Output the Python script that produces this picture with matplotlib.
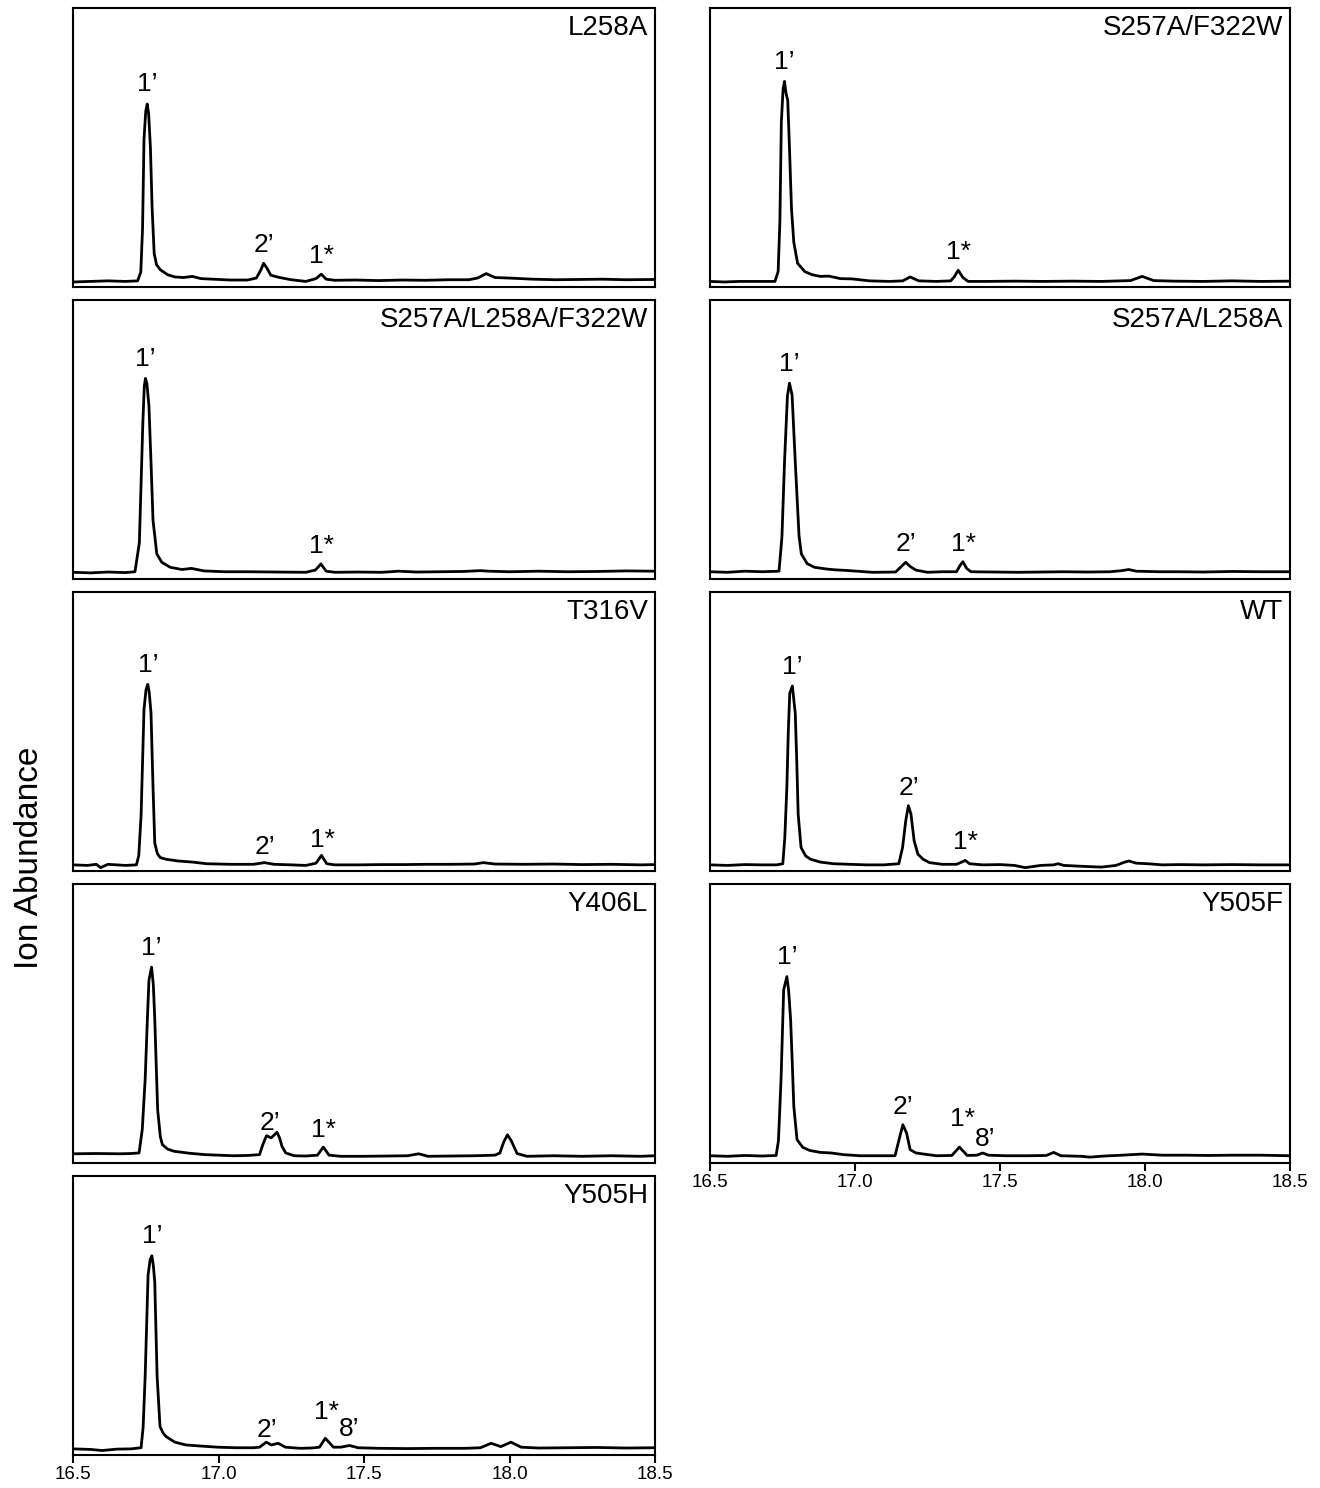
import matplotlib
matplotlib.use("Agg")
import matplotlib.pyplot as plt

plt.rcParams['font.family'] = ['Liberation Sans', 'DejaVu Sans']

# retention time (min), abundance (% of panel height)
l258a = [(16.50, 1.8), (16.56, 2.0), (16.62, 2.2), (16.68, 2.0), (16.722, 2.2), (16.733, 5.4), (16.739, 21),
         (16.744, 53), (16.750, 63), (16.755, 65.6), (16.760, 62), (16.766, 50), (16.772, 28), (16.779, 12),
         (16.787, 8), (16.800, 6.2), (16.825, 4.4), (16.850, 3.6), (16.88, 3.4), (16.91, 3.8), (16.94, 3.0),
         (16.98, 2.8), (17.04, 2.5), (17.10, 2.5), (17.13, 3.2), (17.145, 6.0), (17.155, 8.5), (17.165, 7.0),
         (17.18, 4.2), (17.21, 3.4), (17.25, 2.6), (17.30, 2.0), (17.335, 3.0), (17.353, 4.6), (17.37, 2.8),
         (17.40, 2.4), (17.47, 2.5), (17.55, 2.3), (17.63, 2.5), (17.71, 2.4), (17.79, 2.6), (17.86, 2.6),
         (17.89, 3.2), (17.92, 4.8), (17.95, 3.4), (18.00, 3.2), (18.08, 2.8), (18.16, 2.6), (18.24, 2.7),
         (18.32, 2.8), (18.40, 2.6), (18.50, 2.7)]

s257a_f322w = [(16.50, 2.0), (16.55, 1.8), (16.60, 2.0), (16.66, 2.0), (16.724, 2.0), (16.735, 5.6), (16.741, 23.5),
               (16.746, 59), (16.752, 71), (16.757, 73.7), (16.762, 69.5), (16.768, 67), (16.774, 50), (16.781, 28),
               (16.789, 16), (16.802, 8.5), (16.827, 5.5), (16.852, 4.4), (16.88, 3.8), (16.91, 3.9), (16.95, 3.0),
               (16.99, 2.9), (17.05, 2.2), (17.12, 2.0), (17.165, 2.2), (17.19, 3.6), (17.22, 2.2), (17.28, 2.0),
               (17.33, 2.2), (17.342, 3.6), (17.356, 6.0), (17.372, 3.4), (17.39, 2.0), (17.45, 2.0), (17.55, 2.1),
               (17.65, 2.0), (17.75, 2.1), (17.85, 2.0), (17.95, 2.3), (17.99, 3.8), (18.03, 2.3), (18.10, 2.1),
               (18.20, 2.0), (18.30, 2.2), (18.40, 2.0), (18.50, 2.1)]

s257a_l258a_f322w = [(16.50, 2.4), (16.56, 2.2), (16.62, 2.5), (16.68, 2.3), (16.713, 2.6), (16.728, 13), (16.735, 38),
                     (16.740, 56), (16.745, 69), (16.749, 71.9), (16.754, 70), (16.761, 62), (16.768, 42), (16.775, 21),
                     (16.788, 9), (16.805, 6.0), (16.834, 4.2), (16.874, 3.4), (16.907, 3.8), (16.95, 2.9), (17.02, 2.6),
                     (17.10, 2.6), (17.20, 2.5), (17.30, 2.4), (17.333, 3.2), (17.352, 5.4), (17.37, 2.8), (17.40, 2.4),
                     (17.48, 2.5), (17.56, 2.4), (17.62, 2.8), (17.68, 2.5), (17.76, 2.6), (17.84, 2.7), (17.90, 3.0),
                     (17.93, 2.8), (18.00, 2.6), (18.10, 2.8), (18.20, 2.6), (18.30, 2.7), (18.40, 2.9), (18.50, 2.8)]

s257a_l258a = [(16.50, 2.6), (16.56, 2.4), (16.62, 2.8), (16.68, 2.6), (16.738, 2.8), (16.748, 15), (16.757, 42),
               (16.767, 65.6), (16.774, 70.2), (16.783, 66), (16.794, 42), (16.807, 15.5), (16.815, 9), (16.835, 5.5),
               (16.86, 4.2), (16.90, 3.6), (16.93, 3.3), (16.98, 3.0), (17.06, 2.4), (17.14, 2.5), (17.160, 4.5),
               (17.175, 6.0), (17.19, 4.5), (17.21, 3.2), (17.25, 2.4), (17.30, 2.6), (17.35, 2.6), (17.362, 4.8),
               (17.372, 6.2), (17.385, 3.8), (17.40, 2.6), (17.48, 2.5), (17.56, 2.4), (17.64, 2.5), (17.72, 2.6),
               (17.80, 2.5), (17.88, 2.6), (17.92, 3.0), (17.944, 3.4), (17.97, 2.8), (18.05, 2.6), (18.12, 2.6),
               (18.20, 2.5), (18.30, 2.7), (18.40, 2.6), (18.50, 2.6)]

t316v = [(16.50, 2.2), (16.55, 2.0), (16.58, 2.4), (16.595, 1.2), (16.62, 2.4), (16.68, 2.0), (16.718, 2.2),
         (16.726, 5.5), (16.734, 20), (16.744, 58), (16.751, 65), (16.757, 66.9), (16.762, 64), (16.768, 56.7),
         (16.775, 30), (16.781, 10), (16.79, 6.2), (16.80, 4.8), (16.82, 4.2), (16.86, 3.6), (16.91, 3.2),
         (16.96, 2.6), (17.04, 2.4), (17.12, 2.4), (17.158, 3.0), (17.19, 2.4), (17.25, 2.2), (17.30, 2.0),
         (17.335, 2.8), (17.354, 5.6), (17.372, 2.6), (17.40, 2.2), (17.48, 2.2), (17.56, 2.3), (17.64, 2.3),
         (17.72, 2.4), (17.80, 2.4), (17.88, 2.5), (17.91, 3.0), (17.95, 2.5), (18.05, 2.4), (18.15, 2.5),
         (18.25, 2.3), (18.35, 2.4), (18.45, 2.2), (18.50, 2.3)]

wt = [(16.50, 2.2), (16.56, 2.0), (16.62, 2.3), (16.68, 2.2), (16.73, 2.2), (16.751, 2.6), (16.758, 12),
      (16.765, 30), (16.770, 50), (16.775, 63.7), (16.784, 66.3), (16.794, 56.5), (16.799, 40), (16.804, 20.4),
      (16.814, 8.4), (16.83, 5.4), (16.847, 4.2), (16.88, 3.2), (16.926, 2.6), (16.98, 2.4), (17.04, 2.2),
      (17.10, 2.2), (17.151, 2.6), (17.164, 8.4), (17.175, 18), (17.184, 23.4), (17.193, 20.4), (17.204, 10.8),
      (17.217, 6.0), (17.235, 4.2), (17.257, 3.0), (17.30, 2.4), (17.35, 2.4), (17.368, 3.2), (17.38, 3.8),
      (17.395, 2.6), (17.44, 2.2), (17.50, 2.3), (17.55, 2.0), (17.587, 1.2), (17.64, 2.0), (17.685, 2.2),
      (17.70, 2.6), (17.72, 2.0), (17.80, 1.6), (17.85, 1.4), (17.90, 2.0), (17.925, 3.0), (17.944, 3.6),
      (17.97, 2.8), (18.01, 2.6), (18.06, 2.2), (18.12, 2.3), (18.20, 2.2), (18.30, 2.3), (18.40, 2.2), (18.50, 2.2)]

y406l = [(16.50, 3.3), (16.58, 3.4), (16.66, 3.3), (16.70, 3.4), (16.727, 3.6), (16.738, 12), (16.748, 30),
         (16.755, 50), (16.761, 65.6), (16.770, 70.2), (16.776, 64), (16.781, 51.5), (16.786, 35), (16.791, 19),
         (16.800, 9.5), (16.807, 6.6), (16.825, 5.0), (16.847, 4.2), (16.90, 3.5), (16.953, 3.0), (17.00, 2.8),
         (17.05, 2.6), (17.10, 2.7), (17.141, 3.0), (17.152, 6.5), (17.165, 9.8), (17.181, 9.0), (17.201, 11),
         (17.210, 9.0), (17.218, 6.0), (17.231, 3.6), (17.26, 2.6), (17.30, 2.5), (17.34, 2.8), (17.36, 5.7),
         (17.38, 2.8), (17.42, 2.4), (17.50, 2.4), (17.58, 2.5), (17.65, 2.6), (17.688, 3.3), (17.72, 2.4),
         (17.80, 2.5), (17.88, 2.6), (17.95, 2.8), (17.967, 3.6), (17.98, 7.5), (17.993, 10.1), (18.006, 8),
         (18.026, 3.4), (18.06, 2.4), (18.15, 2.6), (18.25, 2.4), (18.35, 2.6), (18.45, 2.4), (18.50, 2.6)]

y505f = [(16.50, 2.6), (16.56, 2.4), (16.62, 2.7), (16.68, 2.5), (16.728, 2.7), (16.736, 8), (16.745, 30),
         (16.754, 62), (16.765, 66.8), (16.771, 62), (16.778, 51.3), (16.784, 35), (16.789, 20.3), (16.800, 8.4),
         (16.82, 5.6), (16.844, 4.5), (16.88, 3.8), (16.917, 3.6), (16.96, 3.0), (17.017, 2.6), (17.08, 2.6),
         (17.138, 2.6), (17.152, 8.4), (17.165, 13.7), (17.178, 10.7), (17.19, 4.8), (17.21, 3.6), (17.23, 3.3),
         (17.28, 2.6), (17.334, 2.7), (17.36, 5.7), (17.387, 2.7), (17.42, 2.8), (17.44, 3.6), (17.46, 2.8),
         (17.52, 2.6), (17.60, 2.6), (17.66, 2.7), (17.685, 3.8), (17.71, 2.6), (17.78, 2.4), (17.81, 2.1),
         (17.86, 2.5), (17.92, 2.8), (17.99, 3.2), (18.06, 2.8), (18.14, 2.8), (18.22, 2.7), (18.30, 2.8),
         (18.40, 2.8), (18.50, 2.6)]

y505h = [(16.50, 2.2), (16.56, 2.0), (16.60, 1.6), (16.65, 2.1), (16.70, 2.2), (16.734, 2.6), (16.741, 10),
         (16.748, 28.3), (16.758, 64.5), (16.765, 70), (16.771, 71.4), (16.776, 68), (16.781, 62), (16.785, 45),
         (16.789, 28.3), (16.799, 10.2), (16.81, 7.8), (16.82, 6.6), (16.85, 4.6), (16.888, 3.6), (16.94, 3.2),
         (16.997, 2.8), (17.06, 2.6), (17.12, 2.6), (17.141, 2.8), (17.164, 4.6), (17.182, 3.6), (17.205, 4.2),
         (17.23, 2.8), (17.28, 2.4), (17.32, 2.5), (17.347, 2.8), (17.367, 6.0), (17.395, 2.8), (17.42, 2.8),
         (17.45, 3.4), (17.48, 2.6), (17.55, 2.4), (17.65, 2.3), (17.75, 2.4), (17.85, 2.4), (17.90, 2.6),
         (17.937, 4.2), (17.97, 3.0), (18.005, 4.6), (18.04, 2.8), (18.10, 2.5), (18.20, 2.6), (18.30, 2.7),
         (18.40, 2.5), (18.50, 2.6)]

# peak labels: text, time, apex height, lift above apex (points)
lab_l258a = [("1\u2019", 16.755, 65.6, 9), ("2\u2019", 17.155, 8.5, 8), ("1*", 17.355, 4.6, 8)]
lab_s257a_f322w = [("1\u2019", 16.757, 73.7, 9), ("1*", 17.358, 6.0, 8)]
lab_s257a_l258a_f322w = [("1\u2019", 16.749, 71.9, 9), ("1*", 17.354, 5.4, 8)]
lab_s257a_l258a = [("1\u2019", 16.774, 70.2, 9), ("2\u2019", 17.177, 6.0, 8), ("1*", 17.375, 6.2, 8)]
lab_t316v = [("1\u2019", 16.757, 66.9, 9), ("2\u2019", 17.158, 3.0, 6), ("1*", 17.357, 5.6, 6)]
lab_wt = [("1\u2019", 16.784, 66.3, 9), ("2\u2019", 17.186, 23.4, 8), ("1*", 17.382, 3.8, 8)]
lab_y406l = [("2\u2019", 17.177, 11.0, 2), ("1\u2019", 16.770, 70.2, 9), ("1*", 17.362, 5.7, 7)]
lab_y505f = [("1\u2019", 16.765, 66.8, 9), ("2\u2019", 17.165, 13.7, 8), ("1*", 17.372, 5.7, 15),
             ("8\u2019", 17.45, 3.6, 5)]
lab_y505h = [("1\u2019", 16.771, 71.4, 9), ("2\u2019", 17.168, 4.6, 4), ("1*", 17.37, 6.0, 14),
             ("8\u2019", 17.45, 3.4, 7)]

left_panels = [("L258A", l258a, lab_l258a),
               ("S257A/L258A/F322W", s257a_l258a_f322w, lab_s257a_l258a_f322w),
               ("T316V", t316v, lab_t316v),
               ("Y406L", y406l, lab_y406l),
               ("Y505H", y505h, lab_y505h)]
right_panels = [("S257A/F322W", s257a_f322w, lab_s257a_f322w),
                ("S257A/L258A", s257a_l258a, lab_s257a_l258a),
                ("WT", wt, lab_wt),
                ("Y505F", y505f, lab_y505f)]

x_ticks = [16.5, 17.0, 17.5, 18.0, 18.5]

W, H = 1320, 1488
fig = plt.figure(figsize=(W / 100, H / 100), dpi=100)


def draw_panel(col_x, col_w, row, name, trace, labels, bottom):
    top = 8 + row * 292
    ax = fig.add_axes([col_x / W, 1 - (top + 279) / H, col_w / W, 279 / H])
    t = [p[0] for p in trace]
    a = [p[1] for p in trace]
    ax.plot(t, a, color='black', lw=2.0, solid_joinstyle='round')
    ax.set_xlim(16.5, 18.5)
    ax.set_ylim(0, 100)
    ax.set_yticks([])
    for s in ax.spines.values():
        s.set_linewidth(1.5)
    ax.text(0.988, 0.975, name, transform=ax.transAxes, ha='right', va='top', fontsize=20)
    for txt, lt, ly, dy in labels:
        ax.annotate(txt, xy=(lt, ly), xytext=(0, dy), textcoords='offset points',
                    ha='center', va='baseline', fontsize=19)
    if bottom:
        ax.set_xticks(x_ticks)
        ax.set_xticklabels([f"{v:.1f}" for v in x_ticks])
        ax.tick_params(axis='x', direction='out', length=6, width=1.5, labelsize=13.5, pad=2)
    else:
        ax.set_xticks([])
    return ax


for i, (name, tr, lb) in enumerate(left_panels):
    draw_panel(73, 582, i, name, tr, lb, i == len(left_panels) - 1)
for i, (name, tr, lb) in enumerate(right_panels):
    draw_panel(710, 580, i, name, tr, lb, i == len(right_panels) - 1)

fig.text(30 / W, 1 - 858 / H, "Ion Abundance", rotation=90, ha='center', va='center', fontsize=24)

fig.savefig("out.png", dpi=100)
